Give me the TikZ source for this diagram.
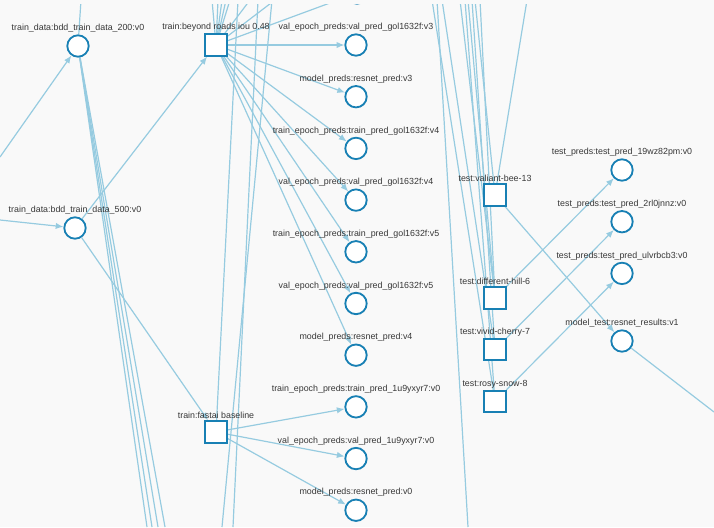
\documentclass[tikz,border=0pt]{standalone}
\usepackage{fontspec}
\setmainfont{Liberation Sans}
\usetikzlibrary{positioning,arrows.meta}
\definecolor{linkblue}{RGB}{150,203,224}
\definecolor{nodeblue}{RGB}{24,128,180}
\definecolor{paper}{RGB}{249,249,249}
\definecolor{labelgray}{RGB}{55,55,55}
\pgfdeclarelayer{links}
\pgfsetlayers{links,main}
\tikzset{node distance=1.292cm, auto,
  >={Latex[length=5.5pt,width=4.5pt]},
  every label/.style={font=\fontsize{6.3}{7.5}\selectfont, text=labelgray, inner sep=0pt},
  label distance=1.1pt,
  artifact/.style={circle, draw=nodeblue, fill=white, line width=1.3pt, minimum size=0.535cm, inner sep=0pt},
  run/.style={rectangle, draw=nodeblue, fill=white, line width=1.3pt, minimum size=0.535cm, inner sep=0pt},
  link/.style={linkblue, line width=0.85pt}}

\begin{document}
\begin{tikzpicture}[x=0.025cm, y=-0.025cm]
              \useasboundingbox (0,0) rectangle (714,527);

              % training data
              \node (d200) [artifact, label={above:{train\_data:bdd\_train\_data\_200:v0}}] at (78,46) {};
              \node (d500) [artifact, label={above:{train\_data:bdd\_train\_data\_500:v0}}] at (75,228) {};

              % training runs
              \node (beyond) [run, label={above:{train:beyond roads iou 0.48}}] at (216,45) {};
              \node (fastai) [run, label={above:{train:fastai baseline}}] at (216,432) {};

              % run outputs
              \begin{scope}
                \clip (0,4) rectangle (714,527);
                \node (prev) [artifact] at (357,-7) {};
              \end{scope}
              \node (v3val) [artifact, label={above:{val\_epoch\_preds:val\_pred\_gol1632f:v3}}] at (356,45) {};
              \node (v3model) [artifact, below of=v3val, label={above:{model\_preds:resnet\_pred:v3}}] {};
              \node (v4train) [artifact, below of=v3model, label={above:{train\_epoch\_preds:train\_pred\_gol1632f:v4}}] {};
              \node (v4val) [artifact, below of=v4train, label={above:{val\_epoch\_preds:val\_pred\_gol1632f:v4}}] {};
              \node (v5train) [artifact, below of=v4val, label={above:{train\_epoch\_preds:train\_pred\_gol1632f:v5}}] {};
              \node (v5val) [artifact, below of=v5train, label={above:{val\_epoch\_preds:val\_pred\_gol1632f:v5}}] {};
              \node (v4model) [artifact, below of=v5val, label={above:{model\_preds:resnet\_pred:v4}}] {};
              \node (u9train) [artifact, below of=v4model, label={above:{train\_epoch\_preds:train\_pred\_1u9yxyr7:v0}}] {};
              \node (u9val) [artifact, below of=u9train, label={above:{val\_epoch\_preds:val\_pred\_1u9yxyr7:v0}}] {};
              \node (v0model) [artifact, below of=u9val, label={above:{model\_preds:resnet\_pred:v0}}] {};

              % test runs
              \node (valiant) [run, label={above:{test:valiant-bee-13}}] at (495,195) {};
              \node (hill) [run, label={above:{test:different-hill-6}}] at (495,298) {};
              \node (cherry) [run, below of=hill, label={above:{test:vivid-cherry-7}}] {};
              \node (snow) [run, below of=cherry, label={above:{test:rosy-snow-8}}] {};

              % test outputs
              \node (pred19) [artifact, label={above:{test\_preds:test\_pred\_19wz82pm:v0}}] at (622,170) {};
              \node (pred2r) [artifact, below of=pred19, label={above:{test\_preds:test\_pred\_2rl0jnnz:v0}}] {};
              \node (predul) [artifact, below of=pred2r, label={above:{test\_preds:test\_pred\_ulvrbcb3:v0}}] {};
              \node (results) [artifact, label={above:{model\_test:resnet\_results:v1}}] at (622,341) {};

              \begin{pgfonlayer}{links}
              \fill [paper] (0,0) rectangle (714,527);
              \begin{scope}
              \clip (0,4) rectangle (714,527);

              % loose ends outside the view
              \coordinate (left1) at (0,157);
              \coordinate (left2) at (0,220);
              \coordinate (d200up) at (81,0);
              \coordinate (d200down1) at (147,527);
              \coordinate (d200down2) at (152,527);
              \coordinate (d200down3) at (158,527);
              \coordinate (d200down4) at (165,527);
              \coordinate (beyondup1) at (212,0);
              \coordinate (beyondup2) at (218,0);
              \coordinate (beyondup3) at (222,0);
              \coordinate (beyondup4) at (226,0);
              \coordinate (beyondup5) at (230,0);
              \coordinate (beyondup6) at (250,0);
              \coordinate (beyondup7) at (275,0);
              \coordinate (fastaiup) at (238,0);
              \coordinate (passup1) at (258,0);
              \coordinate (passdown1) at (233,527);
              \coordinate (passup2) at (272,0);
              \coordinate (passdown2) at (222,527);
              \coordinate (passup3) at (437,0);
              \coordinate (passdown3) at (468,527);
              \coordinate (testup1) at (432,0);
              \coordinate (testup2) at (442,0);
              \coordinate (testup3) at (460,0);
              \coordinate (testup4) at (465,0);
              \coordinate (testup5) at (468,0);
              \coordinate (testup6) at (472,0);
              \coordinate (testup7) at (475,0);
              \coordinate (testup8) at (480,0);
              \coordinate (testup9) at (527,0);
              \coordinate (rightout) at (714,412);

              \draw [link,->] (left1) to (d200);
              \draw [link,->] (left2) to (d500);
              \draw [link] (d200up) to (d200);
              \draw [link] (d200) to (d200down1);
              \draw [link] (d200) to (d200down2);
              \draw [link] (d200) to (d200down3);
              \draw [link] (d200) to (d200down4);
              \draw [link,->] (d500) to (beyond);
              \draw [link,->] (d500) to (fastai);

              \draw [link] (beyond) to (beyondup1);
              \draw [link] (beyond) to (beyondup2);
              \draw [link] (beyond) to (beyondup3);
              \draw [link] (beyond) to (beyondup4);
              \draw [link] (beyond) to (beyondup5);
              \draw [link] (beyond) to (beyondup6);
              \draw [link] (beyond) to (beyondup7);
              \draw [link,->] (beyond) to (prev);
              \draw [link,->] (beyond) to (v3val);
              \draw [link,->] (beyond) to (v3model);
              \draw [link,->] (beyond) to (v4train);
              \draw [link,->] (beyond) to (v4val);
              \draw [link,->] (beyond) to (v5train);
              \draw [link,->] (beyond) to (v5val);
              \draw [link,->] (beyond) to (v4model);

              \draw [link] (fastaiup) to (fastai);
              \draw [link] (passup1) to (passdown1);
              \draw [link] (passup2) to (passdown2);
              \draw [link,->] (fastai) to (u9train);
              \draw [link,->] (fastai) to (u9val);
              \draw [link,->] (fastai) to (v0model);

              \draw [link] (passup3) to (passdown3);
              \draw [link] (testup1) to (snow);
              \draw [link] (testup2) to (cherry);
              \draw [link] (testup3) to (hill);
              \draw [link] (testup4) to (snow);
              \draw [link] (testup5) to (hill);
              \draw [link] (testup6) to (cherry);
              \draw [link] (testup7) to (valiant);
              \draw [link] (testup8) to (hill);
              \draw [link] (testup9) to (valiant);

              \draw [link,->] (valiant) to (results);
              \draw [link,->] (hill) to (pred19);
              \draw [link,->] (cherry) to (pred2r);
              \draw [link,->] (snow) to (predul);
              \draw [link] (results) to (rightout);
              \end{scope}
              \end{pgfonlayer}
            \end{tikzpicture}
\end{document}
